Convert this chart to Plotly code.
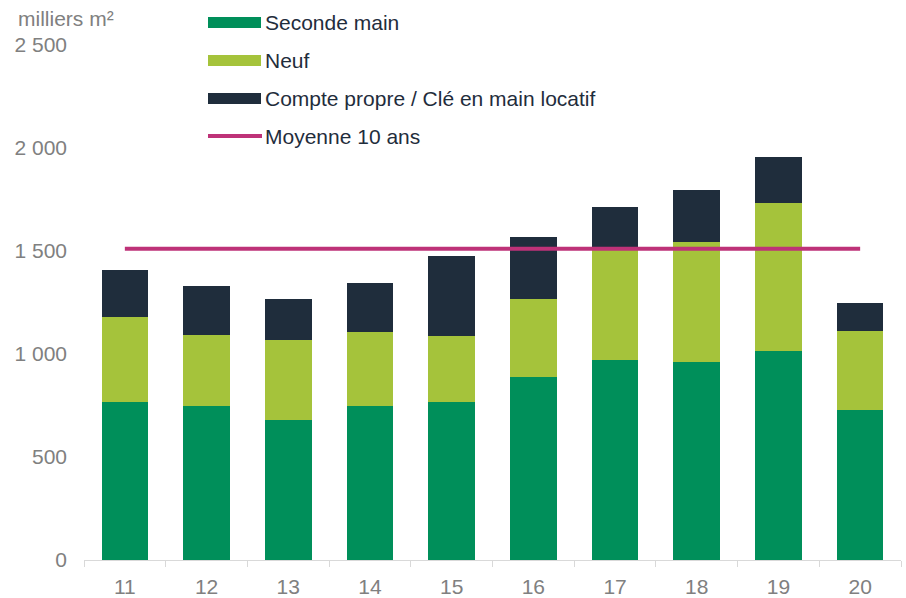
import plotly.graph_objects as go

categories = ["11", "12", "13", "14", "15", "16", "17", "18", "19", "20"]
seconde_main = [765, 749, 681, 748, 768, 887, 969, 960, 1015, 726]
neuf = [417, 345, 386, 361, 320, 381, 539, 582, 720, 386]
compte_propre = [227, 234, 198, 237, 389, 300, 204, 256, 220, 135]
moyenne_10_ans = [1511] * len(categories)

series_names = ["Seconde main", "Neuf", "Compte propre / Clé en main locatif", "Moyenne 10 ans"]
colors = ["#008F5A", "#A5C33B", "#1F2D3C", "#BE3278"]

y_tickvals = [0, 500, 1000, 1500, 2000, 2500]
y_ticktext = ["0", "500", "1 000", "1 500", "2 000", "2 500"]
y_title = "milliers m²"

FONT = "Liberation Sans, Arial, sans-serif"
FS = 21
W, H = 906, 598
ML, MR, MT, MB = 84, 5, 45, 38
PW, PH = W - ML - MR, H - MT - MB

fig = go.Figure()
for name, vals, col in zip(series_names[:3], [seconde_main, neuf, compte_propre], colors[:3]):
    fig.add_trace(go.Bar(x=categories, y=vals, name=name, marker_color=col,
                         marker_line_width=0, showlegend=False))
fig.add_trace(go.Scatter(x=categories, y=moyenne_10_ans, name=series_names[3], mode="lines",
                         line=dict(color=colors[3], width=4), showlegend=False))

def px2paper(x, y):
    return (x - ML) / PW, (H - MB - y) / PH

# custom legend
legend_rows = [22.5, 60.5, 98.5, 136]
shapes = []
annotations = []
for i, (name, col) in enumerate(zip(series_names, colors)):
    yc = legend_rows[i]
    if i < 3:
        x0, y0 = px2paper(208, yc - 5.5)
        x1, y1 = px2paper(261, yc + 5.5)
        shapes.append(dict(type="rect", xref="paper", yref="paper", x0=x0, x1=x1, y0=y0, y1=y1,
                           fillcolor=col, line=dict(width=0)))
    else:
        x0, y0 = px2paper(208, yc)
        x1, _ = px2paper(262, yc)
        shapes.append(dict(type="line", xref="paper", yref="paper", x0=x0, x1=x1, y0=y0, y1=y0,
                           line=dict(color=col, width=4)))
    tx, ty = px2paper(263, yc)
    annotations.append(dict(text=name, xref="paper", yref="paper", x=tx, y=ty, xanchor="left",
                            yanchor="middle", showarrow=False,
                            font=dict(family=FONT, size=FS, color="#1F2D3C")))

ax, ay = px2paper(16, 18)
annotations.append(dict(text=y_title, xref="paper", yref="paper", x=ax, y=ay, xanchor="left",
                        yanchor="middle", showarrow=False,
                        font=dict(family=FONT, size=FS, color="#808080")))

fig.update_layout(
    width=W, height=H,
    margin=dict(l=ML, r=MR, t=MT, b=MB, autoexpand=False),
    barmode="stack", bargap=0.43,
    plot_bgcolor="white", paper_bgcolor="white",
    font=dict(family=FONT, size=FS, color="#808080"),
    shapes=shapes, annotations=annotations,
    xaxis=dict(type="category", showline=True, linecolor="#D9D9D9", linewidth=1,
               ticks="outside", tickson="boundaries", ticklen=6, tickcolor="#D9D9D9",
               showgrid=False, tickfont=dict(size=FS, color="#808080"), ticklabelstandoff=8,
               automargin=False),
    yaxis=dict(range=[0, 2500], tickvals=y_tickvals, ticktext=y_ticktext, showgrid=False,
               zeroline=False, showline=False, ticks="", tickfont=dict(size=FS, color="#808080"),
               ticklabelstandoff=16, automargin=False),
)

fig.write_html("out.html", config={"displayModeBar": False},
               post_script="document.body.style.margin='0';document.body.style.overflow='hidden';")
